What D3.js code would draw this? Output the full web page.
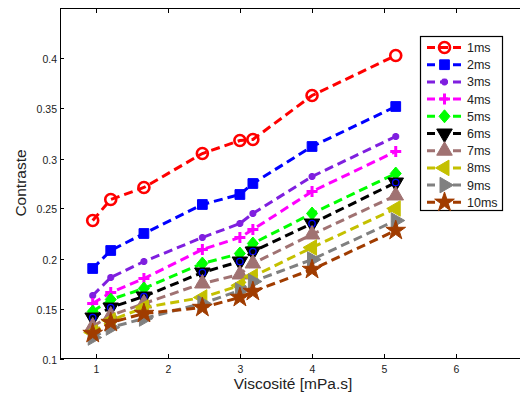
<!DOCTYPE html>
<html><head><meta charset="utf-8">
<script src="https://cdn.jsdelivr.net/npm/d3@7"></script>
<style>body{margin:0;background:#fff}svg{display:block;font-family:"Liberation Sans",Arial,sans-serif}</style>
</head><body><svg id="c" width="520" height="393"></svg>
<script>
const viscosity = [0.96, 1.21, 1.67, 2.48, 3.0, 3.18, 4.0, 5.16];
const c1ms  = [0.238, 0.259, 0.271, 0.305, 0.318, 0.319, 0.363, 0.403];
const c2ms  = [0.190, 0.208, 0.225, 0.254, 0.264, 0.275, 0.312, 0.352];
const c3ms  = [0.163, 0.181, 0.197, 0.221, 0.235, 0.245, 0.282, 0.322];
const c4ms  = [0.155, 0.166, 0.180, 0.209, 0.221, 0.229, 0.267, 0.307];
const c5ms  = [0.147, 0.159, 0.170, 0.195, 0.205, 0.215, 0.245, 0.285];
const c6ms  = [0.141, 0.151, 0.162, 0.186, 0.197, 0.207, 0.235, 0.276];
const c7ms  = [0.132, 0.143, 0.155, 0.175, 0.184, 0.195, 0.224, 0.263];
const c8ms  = [0.126, 0.138, 0.151, 0.161, 0.173, 0.182, 0.211, 0.250];
const c9ms  = [0.121, 0.131, 0.140, 0.155, 0.168, 0.177, 0.199, 0.238];
const c10ms = [0.125, 0.136, 0.145, 0.151, 0.161, 0.167, 0.189, 0.228];
const seriesLabels = ["1ms","2ms","3ms","4ms","5ms","6ms","7ms","8ms","9ms","10ms"];
const xTicks = [1, 2, 3, 4, 5, 6];
const yTicks = [0.1, 0.15, 0.2, 0.25, 0.3, 0.35, 0.4];
const xLabel = "Viscosité [mPa.s]";
const yLabel = "Contraste";

const allSeries = [c1ms,c2ms,c3ms,c4ms,c5ms,c6ms,c7ms,c8ms,c9ms,c10ms];
const colors = ["#ff0000","#0000ff","#7f1fdf","#ff00ff","#00ff00","#000000","#a07272","#c4c000","#808080","#a03c00"];
const markers = ["circle","square","asterisk","plus","diamond","tdown","tup","tleft","tright","star"];

const svg = d3.select("#c");
const x = d3.scaleLinear().domain([0.5, 7]).range([59.5, 528.5]);
const y = d3.scaleLinear().domain([0.1, 0.45]).range([358.5, 8.5]);

function markerPath(type){
  switch(type){
    case "circle": return d3.symbol(d3.symbolCircle, 95)();
    case "square": return d3.symbol(d3.symbolSquare, 95)();
    case "diamond": return "M0,-6.5L5.5,0L0,6.5L-5.5,0Z";
    case "star": return d3.symbol(d3.symbolStar, 120)();
    case "tdown": case "tup": case "tleft": case "tright": return d3.symbol(d3.symbolTriangle, 105)();
    case "plus": return "M-5.5,0L5.5,0M0,-5.5L0,5.5";
    case "asterisk": return "M-3.5,0L3.5,0M0,-3.5L0,3.5M-2.5,-2.5L2.5,2.5M-2.5,2.5L2.5,-2.5";
  }
}
const rot = {tdown:180, tleft:-90, tright:90};
function drawMarker(g, type, color, cx, cy, inPlot){
  const p = g.append("path").attr("d", markerPath(type))
    .attr("transform", `translate(${cx},${cy})` + (rot[type] ? ` rotate(${rot[type]})` : ""));
  if(type==="circle"){ p.attr("fill","none").attr("stroke",color).attr("stroke-width",2.6); }
  else if(type==="plus"||type==="asterisk"){ p.attr("fill","none").attr("stroke",color).attr("stroke-width",type==="plus"?3:2.4); }
  else { p.attr("fill",color).attr("stroke",color).attr("stroke-width",1); }
  if(type==="tdown" && inPlot){
    g.append("circle").attr("cx",cx).attr("cy",cy).attr("r",3.2)
      .attr("fill","#000").attr("stroke","#0000ff").attr("stroke-width",1.3);
  }
}

// axes frame
const frame = svg.append("g");
frame.append("line").attr("x1",60).attr("x2",529).attr("y1",358.5).attr("y2",358.5).attr("stroke","#000");
frame.append("line").attr("x1",60).attr("x2",529).attr("y1",8.5).attr("y2",8.5).attr("stroke","#000");
frame.append("line").attr("x1",60.5).attr("x2",60.5).attr("y1",8).attr("y2",359).attr("stroke","#000");

// ticks (inside, mirrored)
xTicks.forEach(t=>{
  const px = Math.round(x(t))+0.5;
  frame.append("line").attr("x1",px).attr("x2",px).attr("y1",358).attr("y2",354).attr("stroke","#000");
  frame.append("line").attr("x1",px).attr("x2",px).attr("y1",9).attr("y2",13).attr("stroke","#000");
  frame.append("text").attr("x",px).attr("y",373).attr("text-anchor","middle").attr("font-size",10.5).attr("fill","#222").text(t);
});
yTicks.forEach(t=>{
  const py = Math.round(y(t))+0.5;
  frame.append("line").attr("x1",60).attr("x2",64).attr("y1",py).attr("y2",py).attr("stroke","#000");
  frame.append("text").attr("x",57).attr("y",py+4).attr("text-anchor","end").attr("font-size",10.5).attr("fill","#222").text(t);
});
svg.append("text").attr("x",293).attr("y",389).attr("text-anchor","middle").attr("font-size",15.5).attr("fill","#222").text(xLabel);
svg.append("text").attr("transform","translate(26,183) rotate(-90)").attr("text-anchor","middle").attr("font-size",15.5).attr("fill","#222").text(yLabel);

// series
const line = d3.line().x((d,i)=>x(viscosity[i])).y(d=>y(d));
allSeries.forEach((s,k)=>{
  const g = svg.append("g");
  g.append("path").attr("d", line(s)).attr("fill","none").attr("stroke",colors[k])
    .attr("stroke-width",3).attr("stroke-dasharray","9,5");
  s.forEach((v,i)=> drawMarker(g, markers[k], colors[k], x(viscosity[i]), y(v), true));
});

// legend
const lg = svg.append("g");
lg.append("rect").attr("x",420.5).attr("y",36.5).attr("width",82).attr("height",174)
  .attr("fill","#fff").attr("stroke","#000").attr("stroke-width",1.2);
seriesLabels.forEach((lab,k)=>{
  const ly = 47.5 + k*17.2;
  lg.append("line").attr("x1",427).attr("x2",462).attr("y1",ly).attr("y2",ly)
    .attr("stroke",colors[k]).attr("stroke-width",3).attr("stroke-dasharray","8,5");
  drawMarker(lg, markers[k], colors[k], 444.5, ly, false);
  lg.append("text").attr("x",467).attr("y",ly+4.5).attr("font-size",12.5).attr("fill","#222").text(lab);
});
</script></body></html>
